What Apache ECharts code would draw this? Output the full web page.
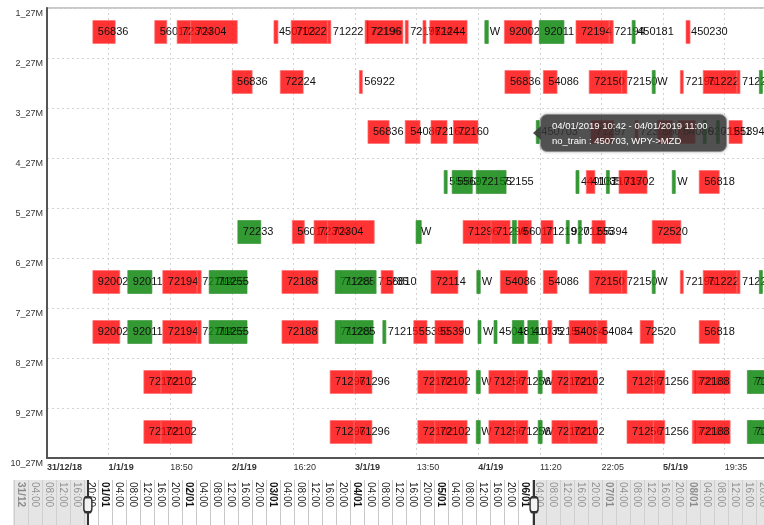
<!DOCTYPE html>
<html>
<head>
<meta charset="utf-8">
<script src="https://cdn.jsdelivr.net/npm/echarts@6.0.0/dist/echarts.min.js"></script>
<style>
  html, body { margin: 0; padding: 0; background: #fff; }
  #chart { width: 764px; height: 525px; }
</style>
</head>
<body>
<div id="chart"></div>
<script>
// main axis: hours counted from 31/12/2018 21:20, one grid step = 10h45
const xTickStep = 10.75;
const xMaxH = 127.2;
const xTickLabels = ['31/12/18', '1/1/19', '18:50', '2/1/19', '16:20', '3/1/19',
  '13:50', '4/1/19', '11:20', '22:05', '5/1/19', '19:35'];
const xDateTicks = [0, 1, 3, 5, 7, 10];
const rowLabels = ['1_27M', '2_27M', '3_27M', '4_27M', '5_27M', '6_27M', '7_27M', '8_27M', '9_27M', '10_27M'];

// [from, to, train, status]  R = late, G = on time
const row1 = [
  [8.0, 11.9, '56836', 'R'], [18.8, 20.9, '56017', 'R'], [22.7, 25.1, '72304', 'R'],
  [25.1, 33.2, '72304', 'R'], [39.6, 40.3, '450703', 'R'], [42.6, 49.0, '71222', 'R'],
  [49.0, 49.4, '71222', 'R'], [55.5, 55.7, '72196', 'R'], [55.7, 62.1, '72196', 'R'],
  [62.5, 62.8, '72196', 'R'], [65.6, 66.0, '71244', 'R'], [66.8, 73.3, '71244', 'R'],
  [76.4, 77.0, 'W', 'G'], [79.8, 84.6, '92002', 'R'], [85.9, 90.2, '92011', 'G'],
  [92.3, 98.1, '72194', 'R'], [98.1, 98.8, '72194', 'R'], [102.1, 102.6, '450181', 'G'],
  [111.5, 112.2, '450230', 'R']
];
const row2 = [
  [32.3, 35.8, '56836', 'R'], [40.7, 44.7, '72224', 'R'], [54.5, 55.0, '56922', 'R'],
  [79.9, 84.3, '56836', 'R'], [86.6, 89.0, '54086', 'R'], [94.6, 100.3, '72150', 'R'],
  [100.3, 101.2, '72150', 'R'], [105.6, 106.1, 'W', 'G'], [110.5, 111.0, '72196', 'R'],
  [114.5, 120.4, '71222', 'R'], [120.4, 120.8, '71222', 'R'], [124.3, 124.6, 'W', 'G']
];
const row3 = [
  [56.0, 59.7, '56836', 'R'], [62.5, 65.1, '54086', 'R'], [67.0, 69.8, '72160', 'R'],
  [70.9, 75.2, '72160', 'R'], [85.37, 85.67, '450703', 'G'], [94.9, 98.9, '71297', 'R'],
  [102.6, 103.0, '72300', 'R'], [106.5, 109.1, '56017', 'R'], [110.1, 113.1, '54086', 'R'],
  [114.5, 114.8, '92011', 'G'], [116.8, 117.1, '71211', 'G'], [119.0, 121.3, '55394', 'R']
];
const row4 = [
  [69.3, 69.6, '55692', 'G'], [70.7, 74.2, '55692', 'G'], [74.9, 78.7, '72155', 'G'],
  [78.7, 80.1, '72155', 'G'], [92.3, 92.7, '440181', 'G'], [94.1, 95.6, '41035', 'R'],
  [97.6, 97.9, '71035', 'G'], [99.8, 104.7, '71702', 'R'], [109.1, 109.6, 'W', 'G'],
  [113.8, 117.3, '56818', 'R']
];
const row5 = [
  [33.3, 37.3, '72233', 'G'], [42.8, 44.9, '56017', 'R'], [46.6, 49.0, '72304', 'R'],
  [49.0, 57.1, '72304', 'R'], [64.4, 65.3, 'W', 'G'], [72.6, 77.5, '71296', 'R'],
  [77.5, 80.8, '71296', 'R'], [81.2, 81.9, 'W', 'G'], [82.2, 84.5, '56017', 'R'],
  [86.2, 88.3, '71219', 'R'], [90.6, 90.9, '92011', 'G'], [92.7, 93.0, '71255', 'G'],
  [95.1, 97.4, '55394', 'R'], [105.6, 110.6, '72520', 'R']
];
const row6 = [
  [8.0, 12.7, '92002', 'R'], [14.1, 18.3, '92011', 'G'], [20.2, 26.2, '72194', 'R'],
  [26.2, 26.9, '72194', 'R'], [28.3, 29.0, '71255', 'G'], [29.0, 34.9, '71255', 'G'],
  [41.0, 47.3, '72188', 'R'], [50.3, 51.1, '71285', 'G'], [51.1, 56.9, '71285', 'G'],
  [56.9, 57.2, '71285', 'G'], [58.3, 60.4, '56810', 'R'], [67.0, 71.7, '72114', 'R'],
  [75.0, 75.6, 'W', 'G'], [79.1, 83.8, '54086', 'R'], [86.6, 89.0, '54086', 'R'],
  [94.6, 100.3, '72150', 'R'], [100.3, 101.2, '72150', 'R'], [105.6, 106.1, 'W', 'G'],
  [110.5, 111.0, '72196', 'R'], [114.5, 120.4, '71222', 'R'], [120.4, 120.8, '71222', 'R'],
  [124.3, 124.6, 'W', 'G']
];
const row7 = [
  [8.0, 12.7, '92002', 'R'], [14.1, 18.3, '92011', 'G'], [20.2, 26.2, '72194', 'R'],
  [26.2, 26.9, '72194', 'R'], [28.3, 29.0, '71255', 'G'], [29.0, 34.9, '71255', 'G'],
  [41.0, 47.3, '72188', 'R'], [50.3, 51.1, '71285', 'G'], [51.1, 56.9, '71285', 'G'],
  [58.6, 59.0, '71215', 'G'], [64.0, 66.3, '55390', 'R'], [67.7, 72.6, '55390', 'R'],
  [75.2, 75.7, 'W', 'G'], [78.0, 78.5, '450181', 'G'], [81.2, 83.2, '48110', 'G'],
  [83.9, 85.7, '41035', 'G'], [87.4, 88.1, '72150', 'R'], [91.1, 96.0, '54084', 'R'],
  [96.0, 97.7, '54084', 'R'], [103.5, 105.8, '72520', 'R'], [113.8, 117.3, '56818', 'R']
];
const row8 = [
  [16.9, 19.9, '72102', 'R'], [19.9, 25.3, '72102', 'R'], [49.4, 53.6, '71296', 'R'],
  [53.6, 56.7, '71296', 'R'], [64.7, 67.7, '72102', 'R'], [67.7, 73.3, '72102', 'R'],
  [74.9, 75.6, 'W', 'G'], [77.1, 81.7, '71256', 'R'], [81.7, 83.9, '71256', 'R'],
  [85.7, 86.4, 'W', 'G'], [88.1, 91.1, '72102', 'R'], [91.1, 96.0, '72102', 'R'],
  [101.2, 105.8, '71256', 'R'], [105.8, 107.8, '71256', 'R'], [112.6, 112.9, '72188', 'R'],
  [112.9, 119.2, '72188', 'R'], [122.2, 122.7, '71285', 'G'], [122.7, 129.7, '71285', 'G']
];
const row9 = [
  [16.9, 19.9, '72102', 'R'], [19.9, 25.3, '72102', 'R'], [49.4, 53.6, '71296', 'R'],
  [53.6, 56.7, '71296', 'R'], [64.7, 67.7, '72102', 'R'], [67.7, 73.3, '72102', 'R'],
  [74.9, 75.6, 'W', 'G'], [77.1, 81.7, '71256', 'R'], [81.7, 83.9, '71256', 'R'],
  [85.7, 86.4, 'W', 'G'], [88.1, 91.1, '72102', 'R'], [91.1, 96.0, '72102', 'R'],
  [101.2, 105.8, '71256', 'R'], [105.8, 107.8, '71256', 'R'], [112.6, 112.9, '72188', 'R'],
  [112.9, 119.2, '72188', 'R'], [122.2, 122.7, '71285', 'G'], [122.7, 129.7, '71285', 'G']
];
const rows = [row1, row2, row3, row4, row5, row6, row7, row8, row9];

// overview strip: hours counted from 31/12/2018 00:00
const stripDays = ['31/12', '01/01', '02/01', '03/01', '04/01', '05/01', '06/01', '07/01', '08/01', '09/01'];
const stripHours = ['04:00', '08:00', '12:00', '16:00', '20:00'];
const stripStart = -2.3;
const windowFrom = 19.1;
const windowTo = 146.6;

// train whose tooltip is open
const tipRow = 2;
const tipTrain = '450703';
const tipRoute = 'WPY->MZD';
const tipFrom = '04/01/2019 10:42';
const tipTo = '04/01/2019 11:00';

const fillColors = { R: 'rgba(255,0,0,0.8)', G: 'rgba(0,128,0,0.8)' };
const edgeColors = { R: 'rgba(255,110,110,0.7)', G: 'rgba(60,150,60,0.7)' };
const font = '"Liberation Sans", Arial, sans-serif';

const items = [];
rows.forEach((r, i) => r.forEach(b => items.push([i, b[0], b[1], b[2], b[3]])));
const tipIndex = items.findIndex(d => d[0] === tipRow && d[3] === tipTrain);

const chart = echarts.init(document.getElementById('chart'));

function renderBar(params, api) {
  const d = items[params.dataIndex];
  const yc = d[0] + 0.48;
  const p0 = api.coord([d[1], yc]);
  const p1 = api.coord([d[2], yc]);
  const h = api.size([0, 1])[1] * 0.46;
  const w = Math.max(p1[0] - p0[0], 3);
  return {
    type: 'group',
    children: [
      {
        type: 'rect',
        shape: { x: p0[0], y: p0[1] - h / 2, width: w, height: h },
        style: { fill: fillColors[d[4]], stroke: edgeColors[d[4]], lineWidth: 1 }
      },
      {
        type: 'text',
        style: {
          x: p0[0] + 5, y: p0[1], text: d[3], fill: '#111',
          font: '11px ' + font, align: 'left', verticalAlign: 'middle'
        }
      }
    ]
  };
}

const arrow = '<div style="position:absolute;left:-8px;top:50%;margin-top:-7px;width:0;height:0;' +
  'border-top:7px solid transparent;border-bottom:7px solid transparent;' +
  'border-right:8px solid rgba(60,60,60,0.92);"></div>';

const dotted = { color: '#d2d2d2', type: [2, 3], width: 1 };

const option = {
  animation: false,
  tooltip: {
    trigger: 'item',
    triggerOn: 'none',
    alwaysShowContent: true,
    transitionDuration: 0,
    backgroundColor: 'rgba(50,50,50,0.85)',
    borderColor: '#8a8a8a',
    borderWidth: 1,
    borderRadius: 7,
    padding: [3, 18, 3, 11],
    extraCssText: 'box-shadow:0 0 3px rgba(0,0,0,0.35);line-height:15px;',
    textStyle: { color: '#fff', fontSize: 9.5, fontFamily: font },
    formatter: () => arrow + tipFrom + ' - ' + tipTo + '<br/>no_train : ' + tipTrain + ', ' +
      tipRoute.replace('>', '&gt;'),
    position: (point, params, dom, rect, size) => {
      const d = items[tipIndex];
      const p = chart.convertToPixel({ xAxisIndex: 0, yAxisIndex: 0 }, [d[2], d[0] + 0.5]);
      return [p[0] + 2, p[1] - size.contentSize[1] / 2];
    }
  },
  grid: [
    { left: 47, top: 8, right: -12, bottom: 67, show: true, borderColor: '#c8c8c8',
      borderWidth: 2, outerBoundsMode: 'none' },
    { left: 7, right: -13, top: 480, bottom: 0, outerBoundsMode: 'none' }
  ],
  xAxis: [
    {
      type: 'value', gridIndex: 0, min: 0, max: xMaxH, interval: xTickStep,
      axisLine: { show: true, onZero: false, lineStyle: { color: '#555', width: 2 } },
      axisTick: { show: false },
      splitLine: { show: true, lineStyle: dotted },
      axisLabel: {
        align: 'left', margin: 5,
        formatter: v => {
          const i = Math.round(v / xTickStep);
          if (i >= xTickLabels.length) return '';
          return (xDateTicks.includes(i) ? '{d|' : '{t|') + xTickLabels[i] + '}';
        },
        rich: {
          d: { fontWeight: 'bold', fontSize: 9, color: '#333', fontFamily: font },
          t: { fontSize: 9, color: '#333', fontFamily: font }
        }
      }
    },
    {
      type: 'value', gridIndex: 1, min: -4, max: 216, interval: 4, position: 'top',
      axisLine: { show: false }, axisTick: { show: false },
      splitLine: { show: false },
      minorTick: { show: false, splitNumber: 2 },
      minorSplitLine: { show: true, lineStyle: { color: '#c8c8c8', width: 1 } },
      axisLabel: {
        inside: true, rotate: -90, margin: 2,
        formatter: v => {
          if (v < 0) return '';
          if (v % 24 === 0) return '{d|' + stripDays[v / 24] + '}';
          return '{t|' + stripHours[(v % 24) / 4 - 1] + '}';
        },
        rich: {
          d: { fontWeight: 'bold', fontSize: 10, color: '#111', fontFamily: font },
          t: { fontSize: 10, color: '#222', fontFamily: font }
        }
      }
    }
  ],
  yAxis: [
    {
      type: 'value', gridIndex: 0, min: 0, max: 9, interval: 1, inverse: true,
      axisLine: { show: true, onZero: false, lineStyle: { color: '#555', width: 2 } },
      axisTick: { show: false },
      splitLine: { show: true, lineStyle: dotted },
      axisLabel: {
        formatter: v => rowLabels[v], verticalAlign: 'top', margin: 4,
        fontSize: 9, color: '#333', fontFamily: font, padding: [1, 0, 0, 0]
      }
    },
    { type: 'value', gridIndex: 1, min: 0, max: 1, show: false }
  ],
  series: [
    {
      type: 'custom',
      xAxisIndex: 0, yAxisIndex: 0,
      renderItem: renderBar,
      dimensions: ['row', 'from', 'to', { name: 'train', type: 'ordinal' }, { name: 'status', type: 'ordinal' }],
      encode: { x: [1, 2], y: 0 },
      data: items
    },
    {
      type: 'line',
      xAxisIndex: 1, yAxisIndex: 1,
      data: [[-4, 0]],
      symbol: 'none',
      silent: true,
      lineStyle: { opacity: 0 },
      markArea: {
        silent: true,
        label: { show: false },
        itemStyle: { color: 'rgba(213,213,213,0.62)' },
        data: [
          [{ xAxis: stripStart }, { xAxis: windowFrom }],
          [{ xAxis: windowTo }, { xAxis: 216 }]
        ]
      },
      markLine: {
        silent: true,
        symbol: 'none',
        label: { show: false },
        lineStyle: { color: '#333', width: 2, type: 'solid' },
        data: [{ xAxis: windowFrom }, { xAxis: windowTo }]
      },
      markPoint: {
        silent: true,
        symbol: 'roundRect',
        symbolSize: [8, 15],
        label: { show: false },
        itemStyle: { color: '#f2f2f2', borderColor: '#333', borderWidth: 2 },
        data: [{ coord: [windowFrom, 0.45] }, { coord: [windowTo, 0.45] }]
      }
    }
  ]
};

chart.setOption(option);
chart.dispatchAction({ type: 'showTip', seriesIndex: 0, dataIndex: tipIndex });
</script>
</body>
</html>
